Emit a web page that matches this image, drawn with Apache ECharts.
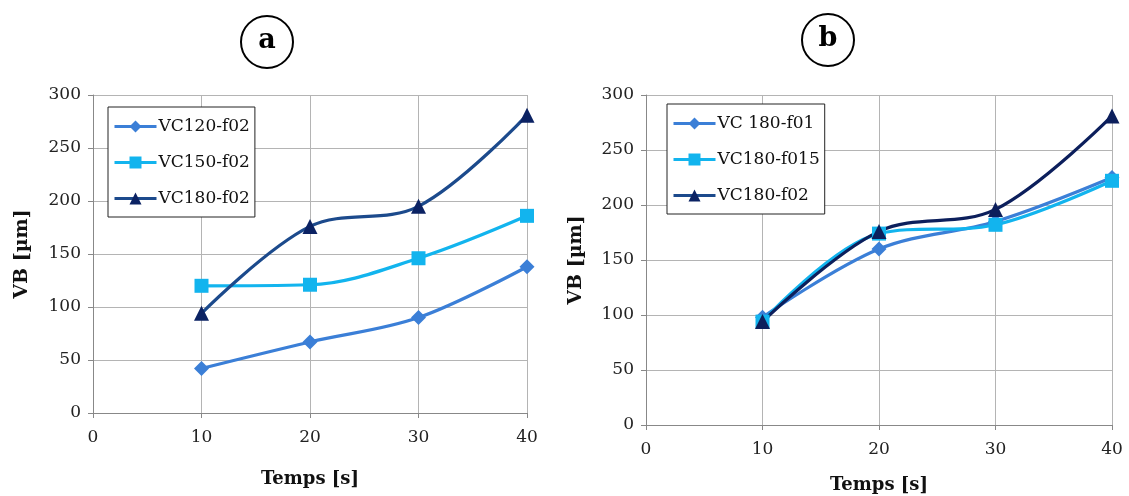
<!DOCTYPE html>
<html><head><meta charset="utf-8">
<script src="https://cdn.jsdelivr.net/npm/echarts@6/dist/echarts.min.js"></script>
<style>html,body{margin:0;padding:0;background:#fff}#c{width:1129px;height:496px}</style>
</head><body><div id="c"></div>
<script>
const times = [10, 20, 30, 40];
const xTicks = [0, 10, 20, 30, 40];
const yTicks = [0, 50, 100, 150, 200, 250, 300];

const namesA = ['VC120-f02', 'VC150-f02', 'VC180-f02'];
const vc120_f02 = [42, 67, 90, 138];
const vc150_f02 = [120, 121, 146, 186];
const vc180_f02a = [94, 176, 195, 281];

const namesB = ['VC 180-f01', 'VC180-f015', 'VC180-f02'];
const vc180_f01 = [98, 160, 185, 225];
const vc180_f015 = [94, 174, 182, 222];
const vc180_f02b = [94, 176, 196, 281];

const FONT = 'DejaVu Serif';
const pairs = v => times.map((t, i) => [t, v[i]]);

function xAx(gi, gap) {
  return {
    type: 'value', gridIndex: gi, min: xTicks[0], max: xTicks[xTicks.length - 1], interval: 10,
    name: 'Temps [s]', nameLocation: 'middle', nameGap: gap,
    nameTextStyle: { fontFamily: FONT, fontWeight: 'bold', fontSize: 18, color: '#111' },
    axisLine: { lineStyle: { color: '#888', width: 1 } },
    axisTick: { show: true, length: 5, lineStyle: { color: '#888' } },
    axisLabel: { fontFamily: FONT, fontSize: 17, color: '#222', margin: 16 },
    splitLine: { show: true, lineStyle: { color: '#b4b4b4', width: 1 } }
  };
}
function yAx(gi, gap) {
  return {
    type: 'value', gridIndex: gi, min: yTicks[0], max: yTicks[yTicks.length - 1], interval: 50,
    name: 'VB [µm]', nameLocation: 'middle', nameGap: gap, nameRotate: 90,
    nameTextStyle: { fontFamily: FONT, fontWeight: 'bold', fontSize: 19, color: '#111' },
    axisLine: { show: true, lineStyle: { color: '#888', width: 1 } },
    axisTick: { show: true, length: 5, lineStyle: { color: '#888' } },
    axisLabel: { fontFamily: FONT, fontSize: 17, color: '#222', margin: 12 },
    splitLine: { show: true, lineStyle: { color: '#b4b4b4', width: 1 } }
  };
}
const C120 = '#3b7fd7', C150 = '#12b4ee', C180a = '#1c4a8c', M180a = '#0b2263', C180b = '#0c1f5c';
function ser(name, data, gi, color, mcolor, symbol, size) {
  return {
    type: 'line', name, xAxisIndex: gi, yAxisIndex: gi, data: pairs(data),
    smooth: 0.35, symbol, symbolSize: size, showSymbol: true,
    lineStyle: { color, width: 3.2 },
    itemStyle: { color: mcolor, borderWidth: 0 },
    emphasis: { disabled: true }
  };
}
function legend(left, top, names) {
  return {
    left, top, orient: 'vertical', data: names,
    backgroundColor: '#fff', borderColor: '#222', borderWidth: 1,
    padding: [11, 5, 10, 5], itemGap: 19, itemWidth: 42, itemHeight: 15,
    lineStyle: { width: 3 },
    textStyle: { fontFamily: FONT, fontSize: 17, color: '#111', padding: [0, 0, 0, -3] }
  };
}
const chart = echarts.init(document.getElementById('c'), null, { renderer: 'canvas' });
chart.setOption({
  animation: false,
  grid: [
    { left: 93, top: 95, width: 434, height: 318, containLabel: false, outerBoundsMode: 'none' },
    { left: 646, top: 95, width: 466, height: 330, containLabel: false, outerBoundsMode: 'none' }
  ],
  xAxis: [xAx(0, 57), xAx(1, 51)],
  yAxis: [yAx(0, 61), yAx(1, 60)],
  legend: [legend(108, 107, namesA), legend(667, 104, namesB)],
  series: [
    ser(namesA[0], vc120_f02, 0, C120, C120, 'diamond', 15),
    ser(namesA[1], vc150_f02, 0, C150, C150, 'rect', 14),
    ser(namesA[2], vc180_f02a, 0, C180a, M180a, 'triangle', 15),
    ser(namesB[0], vc180_f01, 1, C120, C120, 'diamond', 15),
    ser(namesB[1], vc180_f015, 1, C150, C150, 'rect', 14),
    ser(namesB[2], vc180_f02b, 1, C180b, C180b, 'triangle', 15)
  ],
  graphic: [
    { type: 'circle', shape: { cx: 267, cy: 42, r: 26 }, style: { fill: '#fff', stroke: '#000', lineWidth: 2 } },
    { type: 'text', x: 267, y: 41, style: { text: 'a', fontFamily: FONT, fontWeight: 'bold', fontSize: 27, fill: '#000', align: 'center', verticalAlign: 'middle' } },
    { type: 'circle', shape: { cx: 828, cy: 40, r: 26 }, style: { fill: '#fff', stroke: '#000', lineWidth: 2 } },
    { type: 'text', x: 828, y: 39, style: { text: 'b', fontFamily: FONT, fontWeight: 'bold', fontSize: 27, fill: '#000', align: 'center', verticalAlign: 'middle' } }
  ]
});
</script></body></html>
